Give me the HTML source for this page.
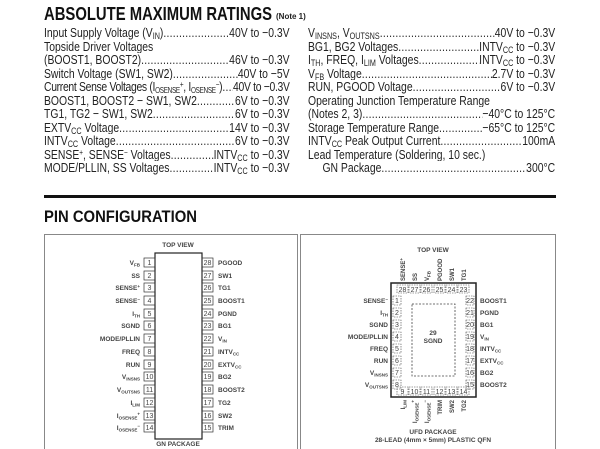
<!DOCTYPE html>
<html><head><meta charset="utf-8">
<style>
body{margin:0;width:600px;height:449px;background:#fff;overflow:hidden;position:relative;font-family:"Liberation Sans",sans-serif;color:#222}
.row{position:absolute;height:13.5px;line-height:13.5px;font-size:13px;display:flex;white-space:nowrap;overflow:hidden;transform:scaleX(0.8);transform-origin:0 0}
.row .l{flex:none}
.row .d{flex:1 1 auto;overflow:hidden;letter-spacing:0.3px}
.row .d::after{content:"..............................................................................................................."}
.row .v{flex:none}
.row sub{font-size:9px;vertical-align:-2px;line-height:0}
.row sup{font-size:8px;vertical-align:4px;line-height:0}
.c1{left:44px;width:307px}
.c2{left:308px;width:309px}
.tight{letter-spacing:-0.4px}
.tight sub{font-size:8px}
svg text{font-family:"Liberation Sans",sans-serif}
</style></head><body>
<svg style="position:absolute;left:0;top:0" width="600" height="449">
<text x="44" y="20" font-family="Liberation Sans" font-weight="bold" font-size="18" textLength="228" lengthAdjust="spacingAndGlyphs" fill="#111">ABSOLUTE MAXIMUM RATINGS</text>
<text x="276" y="19" font-weight="bold" font-size="8" fill="#222">(Note 1)</text>
<rect x="44" y="195" width="512" height="3" fill="#111"/>
<text x="44" y="222" font-family="Liberation Sans" font-weight="bold" font-size="17" textLength="153" lengthAdjust="spacingAndGlyphs" fill="#111">PIN CONFIGURATION</text>
<rect x="44.5" y="234.5" width="253" height="220" fill="none" stroke="#888"/>
<rect x="300.5" y="234.5" width="255" height="220" fill="none" stroke="#888"/>
</svg>

<div class="row c1" style="top:26px"><span class="l">Input Supply Voltage (V<sub>IN</sub>)</span><span class="d"></span><span class="v">40V to −0.3V</span></div>
<div class="row c1" style="top:39.5px"><span class="l">Topside Driver Voltages</span></div>
<div class="row c1" style="top:53px"><span class="l">(BOOST1, BOOST2)</span><span class="d"></span><span class="v">46V to −0.3V</span></div>
<div class="row c1" style="top:66.5px"><span class="l">Switch Voltage (SW1, SW2)</span><span class="d"></span><span class="v">40V to −5V</span></div>
<div class="row c1 tight" style="top:80px"><span class="l">Current Sense Voltages (I<sub>OSENSE</sub><sup>+</sup>, I<sub>OSENSE</sub><sup>−</sup>)</span><span class="d"></span><span class="v">40V to −0.3V</span></div>
<div class="row c1" style="top:93.5px"><span class="l">BOOST1, BOOST2 − SW1, SW2</span><span class="d"></span><span class="v">6V to −0.3V</span></div>
<div class="row c1" style="top:107px"><span class="l">TG1, TG2 − SW1, SW2</span><span class="d"></span><span class="v">6V to −0.3V</span></div>
<div class="row c1" style="top:120.5px"><span class="l">EXTV<sub>CC</sub> Voltage</span><span class="d"></span><span class="v">14V to −0.3V</span></div>
<div class="row c1" style="top:134px"><span class="l">INTV<sub>CC</sub> Voltage</span><span class="d"></span><span class="v">6V to −0.3V</span></div>
<div class="row c1" style="top:147.5px"><span class="l">SENSE<sup>+</sup>, SENSE<sup>−</sup> Voltages</span><span class="d"></span><span class="v">INTV<sub>CC</sub> to −0.3V</span></div>
<div class="row c1" style="top:161px"><span class="l">MODE/PLLIN, SS Voltages</span><span class="d"></span><span class="v">INTV<sub>CC</sub> to −0.3V</span></div>

<div class="row c2" style="top:26px"><span class="l">V<sub>INSNS</sub>, V<sub>OUTSNS</sub></span><span class="d"></span><span class="v">40V to −0.3V</span></div>
<div class="row c2" style="top:39.5px"><span class="l">BG1, BG2 Voltages</span><span class="d"></span><span class="v">INTV<sub>CC</sub> to −0.3V</span></div>
<div class="row c2" style="top:53px"><span class="l">I<sub>TH</sub>, FREQ, I<sub>LIM</sub> Voltages</span><span class="d"></span><span class="v">INTV<sub>CC</sub> to −0.3V</span></div>
<div class="row c2" style="top:66.5px"><span class="l">V<sub>FB</sub> Voltage</span><span class="d"></span><span class="v">2.7V to −0.3V</span></div>
<div class="row c2" style="top:80px"><span class="l">RUN, PGOOD Voltage</span><span class="d"></span><span class="v">6V to −0.3V</span></div>
<div class="row c2" style="top:93.5px"><span class="l">Operating Junction Temperature Range</span></div>
<div class="row c2" style="top:107px"><span class="l">(Notes 2, 3)</span><span class="d"></span><span class="v">−40°C to 125°C</span></div>
<div class="row c2" style="top:120.5px"><span class="l">Storage Temperature Range</span><span class="d"></span><span class="v">−65°C to 125°C</span></div>
<div class="row c2" style="top:134px"><span class="l">INTV<sub>CC</sub> Peak Output Current</span><span class="d"></span><span class="v">100mA</span></div>
<div class="row c2" style="top:147.5px"><span class="l">Lead Temperature (Soldering, 10 sec.)</span></div>
<div class="row c2" style="top:161px"><span class="l">&nbsp;&nbsp;&nbsp;&nbsp;&nbsp;GN Package</span><span class="d"></span><span class="v">300°C</span></div>

<svg style="position:absolute;left:0;top:0" width="600" height="449" font-size="6.5" fill="#444">
<text x="178" y="247" text-anchor="middle" font-weight="bold">TOP VIEW</text>
<rect x="155" y="253" width="47" height="186" fill="none" stroke="#222" stroke-width="1.2"/>
<text x="178" y="446" text-anchor="middle" font-weight="bold">GN PACKAGE</text>
<g font-weight="bold">
<g text-anchor="end">
<text x="140" y="265">V<tspan font-size="4.5" dy="1.5">FB</tspan></text>
<text x="140" y="278">SS</text>
<text x="140" y="290">SENSE<tspan font-size="4.5" dy="-2">+</tspan></text>
<text x="140" y="303">SENSE<tspan font-size="4.5" dy="-2">−</tspan></text>
<text x="140" y="316">I<tspan font-size="4.5" dy="1.5">TH</tspan></text>
<text x="140" y="328">SGND</text>
<text x="140" y="341">MODE/PLLIN</text>
<text x="140" y="354">FREQ</text>
<text x="140" y="367">RUN</text>
<text x="140" y="379">V<tspan font-size="4.5" dy="1.5">INSNS</tspan></text>
<text x="140" y="392">V<tspan font-size="4.5" dy="1.5">OUTSNS</tspan></text>
<text x="140" y="405">I<tspan font-size="4.5" dy="1.5">LIM</tspan></text>
<text x="140" y="418">I<tspan font-size="4.5" dy="1.5">OSENSE</tspan><tspan font-size="4.5" dy="-4">+</tspan></text>
<text x="140" y="430">I<tspan font-size="4.5" dy="1.5">OSENSE</tspan><tspan font-size="4.5" dy="-4">−</tspan></text>
</g>
<g>
<text x="218" y="265">PGOOD</text>
<text x="218" y="278">SW1</text>
<text x="218" y="290">TG1</text>
<text x="218" y="303">BOOST1</text>
<text x="218" y="316">PGND</text>
<text x="218" y="328">BG1</text>
<text x="218" y="341">V<tspan font-size="4.5" dy="1.5">IN</tspan></text>
<text x="218" y="354">INTV<tspan font-size="4.5" dy="1.5">CC</tspan></text>
<text x="218" y="367">EXTV<tspan font-size="4.5" dy="1.5">CC</tspan></text>
<text x="218" y="379">BG2</text>
<text x="218" y="392">BOOST2</text>
<text x="218" y="405">TG2</text>
<text x="218" y="418">SW2</text>
<text x="218" y="430">TRIM</text>
</g>
</g>
<g stroke="#333" stroke-width="0.7" fill="none">
<rect x="144" y="258" width="11" height="9"/><rect x="144" y="271" width="11" height="9"/><rect x="144" y="283" width="11" height="9"/><rect x="144" y="296" width="11" height="9"/><rect x="144" y="309" width="11" height="9"/><rect x="144" y="321" width="11" height="9"/><rect x="144" y="334" width="11" height="9"/><rect x="144" y="347" width="11" height="9"/><rect x="144" y="360" width="11" height="9"/><rect x="144" y="372" width="11" height="9"/><rect x="144" y="385" width="11" height="9"/><rect x="144" y="398" width="11" height="9"/><rect x="144" y="411" width="11" height="9"/><rect x="144" y="423" width="11" height="9"/>
<rect x="202" y="258" width="11" height="9"/><rect x="202" y="271" width="11" height="9"/><rect x="202" y="283" width="11" height="9"/><rect x="202" y="296" width="11" height="9"/><rect x="202" y="309" width="11" height="9"/><rect x="202" y="321" width="11" height="9"/><rect x="202" y="334" width="11" height="9"/><rect x="202" y="347" width="11" height="9"/><rect x="202" y="360" width="11" height="9"/><rect x="202" y="372" width="11" height="9"/><rect x="202" y="385" width="11" height="9"/><rect x="202" y="398" width="11" height="9"/><rect x="202" y="411" width="11" height="9"/><rect x="202" y="423" width="11" height="9"/>
</g>
<g text-anchor="middle" font-size="7">
<text x="149.5" y="265">1</text><text x="149.5" y="278">2</text><text x="149.5" y="290">3</text><text x="149.5" y="303">4</text><text x="149.5" y="316">5</text><text x="149.5" y="328">6</text><text x="149.5" y="341">7</text><text x="149.5" y="354">8</text><text x="149.5" y="367">9</text><text x="149.5" y="379">10</text><text x="149.5" y="392">11</text><text x="149.5" y="405">12</text><text x="149.5" y="418">13</text><text x="149.5" y="430">14</text>
<text x="207.5" y="265">28</text><text x="207.5" y="278">27</text><text x="207.5" y="290">26</text><text x="207.5" y="303">25</text><text x="207.5" y="316">24</text><text x="207.5" y="328">23</text><text x="207.5" y="341">22</text><text x="207.5" y="354">21</text><text x="207.5" y="367">20</text><text x="207.5" y="379">19</text><text x="207.5" y="392">18</text><text x="207.5" y="405">17</text><text x="207.5" y="418">16</text><text x="207.5" y="430">15</text>
</g>

<text x="433" y="252" text-anchor="middle" font-weight="bold">TOP VIEW</text>
<rect x="391" y="283" width="85" height="114" fill="none" stroke="#222" stroke-width="1.5"/>
<rect x="412" y="304" width="43" height="72" fill="none" stroke="#444" stroke-width="0.8" stroke-dasharray="2,1.5"/>
<text x="433" y="335" text-anchor="middle" font-weight="bold">29</text>
<text x="433" y="343" text-anchor="middle" font-weight="bold">SGND</text>
<g stroke="#444" stroke-width="0.6" fill="none" stroke-dasharray="1.5,1">
<rect x="397" y="285" width="11" height="8"/><rect x="409" y="285" width="11" height="8"/><rect x="421" y="285" width="11" height="8"/><rect x="434" y="285" width="11" height="8"/><rect x="446" y="285" width="11" height="8"/><rect x="458" y="285" width="11" height="8"/>
<rect x="397" y="387" width="11" height="8"/><rect x="409" y="387" width="11" height="8"/><rect x="421" y="387" width="11" height="8"/><rect x="434" y="387" width="11" height="8"/><rect x="446" y="387" width="11" height="8"/><rect x="458" y="387" width="11" height="8"/>
<rect x="393" y="296" width="8" height="9"/><rect x="393" y="308" width="8" height="9"/><rect x="393" y="320" width="8" height="9"/><rect x="393" y="332" width="8" height="9"/><rect x="393" y="344" width="8" height="9"/><rect x="393" y="356" width="8" height="9"/><rect x="393" y="368" width="8" height="9"/><rect x="393" y="380" width="8" height="9"/>
<rect x="466" y="296" width="8" height="9"/><rect x="466" y="308" width="8" height="9"/><rect x="466" y="320" width="8" height="9"/><rect x="466" y="332" width="8" height="9"/><rect x="466" y="344" width="8" height="9"/><rect x="466" y="356" width="8" height="9"/><rect x="466" y="368" width="8" height="9"/><rect x="466" y="380" width="8" height="9"/>
</g>
<g text-anchor="middle" font-size="7">
<text x="402.5" y="292">28</text><text x="414.5" y="292">27</text><text x="426.5" y="292">26</text><text x="439.5" y="292">25</text><text x="451.5" y="292">24</text><text x="463.5" y="292">23</text>
<text x="402.5" y="394">9</text><text x="414.5" y="394">10</text><text x="426.5" y="394">11</text><text x="439.5" y="394">12</text><text x="451.5" y="394">13</text><text x="463.5" y="394">14</text>
<text x="397" y="303">1</text><text x="397" y="315">2</text><text x="397" y="327">3</text><text x="397" y="339">4</text><text x="397" y="351">5</text><text x="397" y="363">6</text><text x="397" y="375">7</text><text x="397" y="387">8</text>
<text x="470" y="303">22</text><text x="470" y="315">21</text><text x="470" y="327">20</text><text x="470" y="339">19</text><text x="470" y="351">18</text><text x="470" y="363">17</text><text x="470" y="375">16</text><text x="470" y="387">15</text>
</g>
<g font-weight="bold" text-anchor="end">
<text x="388" y="303">SENSE<tspan font-size="4.5" dy="-2">−</tspan></text>
<text x="388" y="315">I<tspan font-size="4.5" dy="1.5">TH</tspan></text>
<text x="388" y="327">SGND</text>
<text x="388" y="339">MODE/PLLIN</text>
<text x="388" y="351">FREQ</text>
<text x="388" y="363">RUN</text>
<text x="388" y="375">V<tspan font-size="4.5" dy="1.5">INSNS</tspan></text>
<text x="388" y="387">V<tspan font-size="4.5" dy="1.5">OUTSNS</tspan></text>
</g>
<g font-weight="bold">
<text x="480" y="303">BOOST1</text>
<text x="480" y="315">PGND</text>
<text x="480" y="327">BG1</text>
<text x="480" y="339">V<tspan font-size="4.5" dy="1.5">IN</tspan></text>
<text x="480" y="351">INTV<tspan font-size="4.5" dy="1.5">CC</tspan></text>
<text x="480" y="363">EXTV<tspan font-size="4.5" dy="1.5">CC</tspan></text>
<text x="480" y="375">BG2</text>
<text x="480" y="387">BOOST2</text>
</g>
<g font-weight="bold" font-size="6">
<text transform="translate(405,281) rotate(-90)">SENSE<tspan font-size="4.5" dy="-2">+</tspan></text>
<text transform="translate(417,281) rotate(-90)">SS</text>
<text transform="translate(429,281) rotate(-90)">V<tspan font-size="4.5" dy="1.5">FB</tspan></text>
<text transform="translate(442,281) rotate(-90)">PGOOD</text>
<text transform="translate(454,281) rotate(-90)">SW1</text>
<text transform="translate(466,281) rotate(-90)">TG1</text>
<g text-anchor="end">
<text transform="translate(405,400) rotate(-90)">I<tspan font-size="4.5" dy="1.5">LIM</tspan></text>
<text transform="translate(417,400) rotate(-90)">I<tspan font-size="4.5" dy="1.5">OSENSE</tspan><tspan font-size="4.5" dy="-4">+</tspan></text>
<text transform="translate(429,400) rotate(-90)">I<tspan font-size="4.5" dy="1.5">OSENSE</tspan><tspan font-size="4.5" dy="-4">−</tspan></text>
<text transform="translate(442,400) rotate(-90)">TRIM</text>
<text transform="translate(454,400) rotate(-90)">SW2</text>
<text transform="translate(466,400) rotate(-90)">TG2</text>
</g>
</g>
<text x="433" y="434" text-anchor="middle" font-weight="bold">UFD PACKAGE</text>
<text x="433" y="442" text-anchor="middle" font-weight="bold">28-LEAD (4mm × 5mm) PLASTIC QFN</text>
</svg>
</body></html>
